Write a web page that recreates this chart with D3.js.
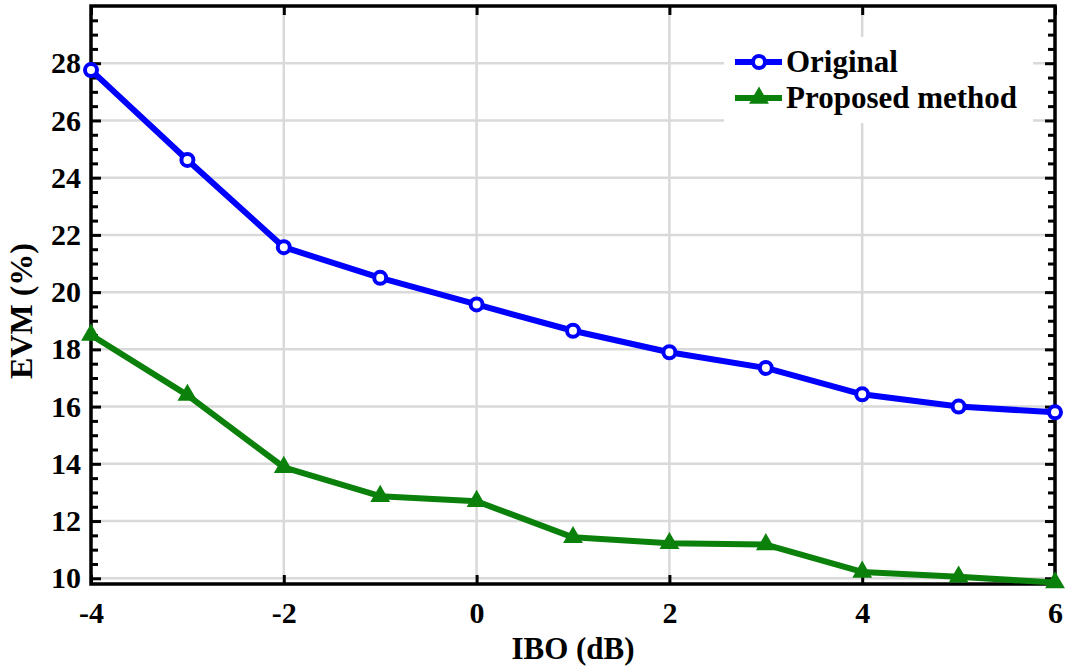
<!DOCTYPE html>
<html><head><meta charset="utf-8">
<script src="https://cdn.jsdelivr.net/npm/d3@7"></script>
<style>body{margin:0;background:#fff;} svg{display:block;}</style>
</head><body><svg id="c" width="1073" height="668"></svg>
<script>
const ibo = [-4,-3,-2,-1,0,1,2,3,4,5,6];
const original = [27.76,24.62,21.57,20.5,19.57,18.65,17.9,17.35,16.43,16.0,15.8];
const proposed = [18.5,16.4,13.88,12.87,12.69,11.43,11.22,11.18,10.22,10.05,9.85];
const xTicks = [-4,-2,0,2,4,6];
const yTicks = [10,12,14,16,18,20,22,24,26,28];
const seriesNames = ["Original","Proposed method"];

const FONT = '"Liberation Serif", "Times New Roman", serif';
const svg = d3.select("#c");
const L=91, R=1055, T=6, B=584;
const x = d3.scaleLinear().domain([-4,6]).range([L,R]);
const y = d3.scaleLinear().domain([9.8,30]).range([B,T]);

// grid
const g = svg.append("g");
g.selectAll(".gx").data(xTicks).enter().append("line")
  .attr("x1",d=>x(d)).attr("x2",d=>x(d)).attr("y1",T).attr("y2",B)
  .attr("stroke","#d9d9d9").attr("stroke-width",2.5);
g.selectAll(".gy").data(yTicks).enter().append("line")
  .attr("x1",L).attr("x2",R).attr("y1",d=>y(d)).attr("y2",d=>y(d))
  .attr("stroke","#d9d9d9").attr("stroke-width",2.5);

// axes
const minor = d3.range(10,30,0.5).filter(v=>Math.abs(v%2)>1e-9);
function styleAxis(sel){
  sel.attr("font-family",FONT).attr("font-size",30).attr("font-weight","bold");
  sel.select(".domain").remove();
  sel.selectAll(".tick line").attr("stroke","#000").attr("stroke-width",3);
  sel.selectAll(".tick text").attr("fill","#000");
}
const ax = svg.append("g").attr("transform",`translate(0,${B})`)
  .call(d3.axisBottom(x).tickValues(xTicks).tickSize(-9).tickPadding(18).tickFormat(d=>d));
styleAxis(ax);
const axT = svg.append("g").attr("transform",`translate(0,${T})`)
  .call(d3.axisTop(x).tickValues(xTicks).tickSize(-9).tickFormat(""));
styleAxis(axT);
const ay = svg.append("g").attr("transform",`translate(${L},0)`)
  .call(d3.axisLeft(y).tickValues(yTicks).tickSize(-10).tickPadding(10).tickFormat(d=>d));
styleAxis(ay);
const ayR = svg.append("g").attr("transform",`translate(${R},0)`)
  .call(d3.axisRight(y).tickValues(yTicks).tickSize(-10).tickFormat(""));
styleAxis(ayR);
const ayMin = svg.append("g").attr("transform",`translate(${L},0)`)
  .call(d3.axisLeft(y).tickValues(minor).tickSize(-7).tickFormat(""));
styleAxis(ayMin);
const ayMinR = svg.append("g").attr("transform",`translate(${R},0)`)
  .call(d3.axisRight(y).tickValues(minor).tickSize(-7).tickFormat(""));
styleAxis(ayMinR);

// frame
svg.append("rect").attr("x",L).attr("y",T).attr("width",R-L).attr("height",B-T)
  .attr("fill","none").attr("stroke","#000").attr("stroke-width",3.5);

// lines
const line = d3.line().x((d,i)=>x(ibo[i])).y(d=>y(d));
const blue="#0000ff", green="#0b800b";
svg.append("path").datum(original).attr("d",line).attr("fill","none").attr("stroke",blue).attr("stroke-width",6).attr("stroke-linejoin","round");
svg.append("path").datum(proposed).attr("d",line).attr("fill","none").attr("stroke",green).attr("stroke-width",6).attr("stroke-linejoin","round");
svg.selectAll(".mo").data(original).enter().append("circle")
  .attr("cx",(d,i)=>x(ibo[i])).attr("cy",d=>y(d)).attr("r",6)
  .attr("fill","#fff").attr("stroke",blue).attr("stroke-width",4);
const tri = d3.symbol().type(d3.symbolTriangle).size(170);
svg.selectAll(".mp").data(proposed).enter().append("path")
  .attr("d",tri).attr("transform",(d,i)=>`translate(${x(ibo[i])},${y(d)})`)
  .attr("fill",green);

// legend
const lg = svg.append("g");
lg.append("rect").attr("x",724).attr("y",37).attr("width",309).attr("height",86).attr("fill","#fff");
const rows=[{n:seriesNames[0],c:blue,m:"c",yy:62},{n:seriesNames[1],c:green,m:"t",yy:98}];
rows.forEach(r=>{
  lg.append("line").attr("x1",735).attr("x2",782).attr("y1",r.yy).attr("y2",r.yy).attr("stroke",r.c).attr("stroke-width",6);
  if(r.m==="c") lg.append("circle").attr("cx",759).attr("cy",r.yy).attr("r",6).attr("fill","#fff").attr("stroke",r.c).attr("stroke-width",4);
  else lg.append("path").attr("d",tri).attr("transform",`translate(759,${r.yy})`).attr("fill",r.c);
  lg.append("text").attr("x",786).attr("y",r.yy+10).attr("font-family",FONT).attr("font-weight","bold").attr("font-size",31).attr("fill","#000").text(r.n);
});

// titles
svg.append("text").attr("x",(L+R)/2).attr("y",659).attr("text-anchor","middle").attr("font-family",FONT).attr("font-weight","bold").attr("font-size",31).text("IBO (dB)");
svg.append("text").attr("transform","translate(32,311) rotate(-90)").attr("text-anchor","middle").attr("font-family",FONT).attr("font-weight","bold").attr("font-size",32).text("EVM (%)");
</script></body></html>
